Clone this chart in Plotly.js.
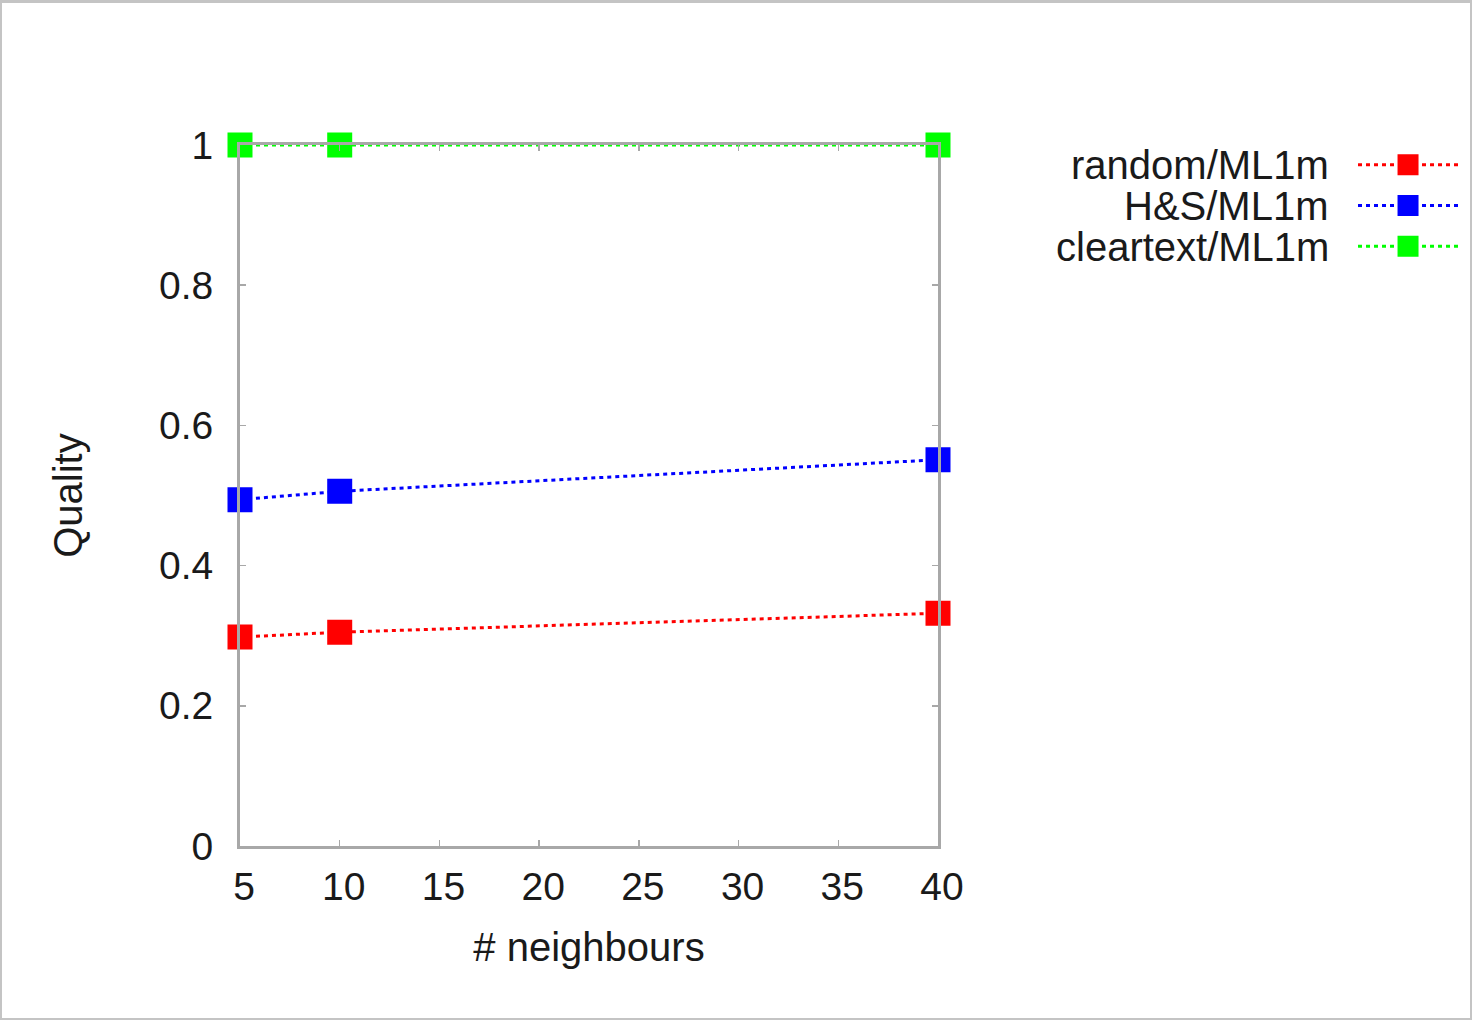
<!DOCTYPE html>
<html>
<head>
<meta charset="utf-8">
<script src="https://cdn.plot.ly/plotly-3.0.1.min.js"></script>
<style>
  html, body { margin: 0; padding: 0; background: #fff; }
  #wrap { position: relative; width: 1472px; height: 1020px; }
  #chart { width: 1472px; height: 1020px; }
  #frame { position: absolute; left: 0; top: 0; width: 1472px; height: 1020px; box-sizing: border-box;
           border: 2px solid #c4c4c4; border-top-width: 3px; pointer-events: none; }
</style>
</head>
<body>
<div id="wrap"><div id="chart"></div><div id="frame"></div></div>
<script>
// ---- data ----
const neighbours = [5, 10, 40];
const randomML1m = [0.298, 0.305, 0.332];
const hsML1m = [0.494, 0.506, 0.551];
const cleartextML1m = [1.0, 1.0, 1.0];
const seriesNames = ['random/ML1m', 'H&S/ML1m', 'cleartext/ML1m'];
const seriesColors = ['#ff0000', '#0000ff', '#00ff00'];
const xTicks = [5, 10, 15, 20, 25, 30, 35, 40];
const yTicks = [0, 0.2, 0.4, 0.6, 0.8, 1];
const yTickLabels = ['0', '0.2', '0.4', '0.6', '0.8', '1'];

const FONT = 'Liberation Sans, Arial, Helvetica, sans-serif';
const FS_TICK = 39;
const FS_TITLE = 40;
const FS_KEY = 40;

const seriesValues = [randomML1m, hsML1m, cleartextML1m];
// Legend symbols come from Plotly's legend; the key labels are drawn as
// right-aligned annotations to the left of the symbols (gnuplot style).
const traces = seriesValues.map((vals, i) => ({
  x: neighbours,
  y: vals,
  type: 'scatter',
  mode: 'lines+markers',
  name: '',
  meta: seriesNames[i],
  hovertemplate: '%{meta}: %{y}<extra></extra>',
  cliponaxis: false,
  line: { color: seriesColors[i], width: 3, dash: '4px,4px' },
  marker: { symbol: 'square', size: 20, color: seriesColors[i], line: { width: 5, color: seriesColors[i] } }
}));

const legendRowsY = [0.9714, 0.9129, 0.8543];
const annotations = seriesNames.map((n, i) => ({
  xref: 'paper', yref: 'paper',
  x: 1.563, y: legendRowsY[i],
  xanchor: 'right', yanchor: 'middle',
  text: n, showarrow: false,
  font: { family: FONT, size: FS_KEY, color: '#1a1a1a' }
}));

const axisCommon = {
  showgrid: false, zeroline: false,
  showline: true, linecolor: '#a8a8a8', linewidth: 3, mirror: 'ticks',
  ticks: 'inside', ticklen: 6, tickwidth: 1.5, tickcolor: '#a8a8a8',
  tickfont: { family: FONT, size: FS_TICK, color: '#1a1a1a' }
};

const layout = {
  width: 1472, height: 1020,
  paper_bgcolor: '#ffffff', plot_bgcolor: '#ffffff',
  margin: { l: 240, r: 534, t: 145, b: 174, autoexpand: false },
  font: { family: FONT, size: FS_TICK, color: '#1a1a1a' },
  showlegend: true,
  legend: {
    x: 1.5946, y: 1.0079, xanchor: 'left', yanchor: 'top',
    xref: 'paper', yref: 'paper',
    bgcolor: 'rgba(0,0,0,0)', borderwidth: 0,
    itemwidth: 100,
    font: { family: FONT, size: 29, color: 'rgba(0,0,0,0)' },
    tracegroupgap: 0
  },
  xaxis: Object.assign({}, axisCommon, {
    range: [5, 40], tickmode: 'array', tickvals: xTicks,
    ticklabelstandoff: 4, ticklabelshift: 4,
    title: { text: '# neighbours', font: { family: FONT, size: FS_TITLE, color: '#1a1a1a' }, standoff: 27 }
  }),
  yaxis: Object.assign({}, axisCommon, {
    range: [0, 1], tickmode: 'array', tickvals: yTicks, ticktext: yTickLabels,
    ticklabelstandoff: 16,
    title: { text: 'Quality', font: { family: FONT, size: FS_TITLE, color: '#1a1a1a' }, standoff: 64 }
  }),
  annotations: annotations
};

Plotly.newPlot('chart', traces, layout, { displayModeBar: false, staticPlot: true });
</script>
</body>
</html>
